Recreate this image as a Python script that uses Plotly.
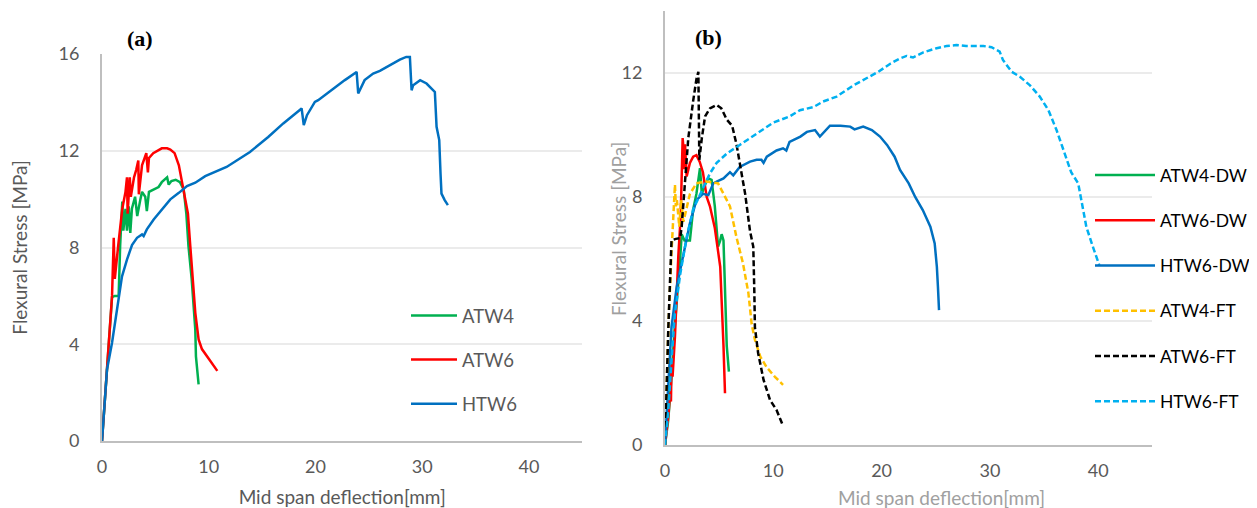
import plotly.graph_objects as go

# ---------------- Panel (a) data ----------------
a_atw4_x = [0, 0.3, 0.6, 0.94, 1.2, 1.56, 1.7, 1.9, 2.0, 2.2, 2.34, 2.5, 2.65, 2.8, 3.1, 3.3, 3.6, 3.75,
            4.05, 4.2, 4.4, 4.8, 5.3, 5.6, 6.1, 6.25, 6.5, 6.9, 7.3, 7.65, 7.9, 8.1, 8.4, 8.74, 8.8, 9.05]
a_atw4_y = [0, 2.0, 4.0, 5.95, 6.0, 6.0, 8.06, 9.9, 8.7, 9.6, 8.7, 9.7, 8.6, 9.6, 10.1, 9.3, 10.0, 10.3,
            10.1, 9.5, 10.3, 10.4, 10.5, 10.7, 10.9, 10.6, 10.75, 10.8, 10.7, 10.4, 9.4, 8.06, 6.7, 4.6, 3.5, 2.34]

a_atw6_x = [0, 0.3, 0.62, 0.94, 1.1, 1.15, 1.2, 1.5, 1.9, 2.2, 2.34, 2.4, 2.6, 2.7, 3.0, 3.2, 3.4, 3.45,
            3.75, 4.15, 4.3, 4.4, 4.8, 5.6, 6.1, 6.4, 6.8, 7.2, 7.65, 8.05, 8.27, 8.5, 8.74, 9.05, 9.36, 10.0, 10.8]
a_atw6_y = [0, 1.8, 4.06, 6.0, 8.4, 7.5, 6.7, 8.0, 9.6, 10.3, 10.9, 9.4, 10.9, 10.1, 10.9, 11.2, 11.6, 10.2,
            11.4, 11.9, 11.1, 11.7, 11.9, 12.1, 12.1, 12.05, 11.9, 11.4, 10.4, 9.4, 8.06, 6.7, 5.3, 4.2, 3.8, 3.4, 2.9]

a_htw6_x = [0, 0.47, 0.94, 1.25, 1.56, 1.87, 2.34, 2.81, 3.28, 3.75, 3.9, 4.2, 4.84, 5.6, 6.4, 7.2, 7.96,
            8.74, 9.67, 11.67, 13.86, 15.57, 16.98, 18.7, 18.9, 19.2, 19.94, 20.25, 21.66, 22.75, 23.85, 24.0,
            24.6, 25.4, 26.03, 26.8, 27.9, 28.5, 28.84, 29.0, 29.15, 29.8, 30.4, 30.87, 31.18, 31.34, 31.59,
            31.71, 31.8, 32.1, 32.4]
a_htw6_y = [0, 2.96, 4.06, 5.03, 6.0, 6.8, 7.5, 8.1, 8.4, 8.54, 8.47, 8.75, 9.16, 9.57, 9.99, 10.26, 10.54,
            10.68, 10.95, 11.33, 11.95, 12.57, 13.13, 13.75, 13.06, 13.47, 14.02, 14.09, 14.57, 14.92, 15.26, 14.37,
            14.92, 15.19, 15.3, 15.5, 15.77, 15.88, 15.88, 14.5, 14.71, 14.92, 14.78, 14.57, 14.43, 12.99, 12.44,
            11.06, 10.23, 9.96, 9.75]

# ---------------- Panel (b) data ----------------
b_atw4dw_x = [0, 0.3, 0.6, 0.9, 1.4, 1.54, 1.8, 2.3, 2.45, 2.6, 2.9, 3.23, 3.4, 3.7, 4.0, 4.3, 4.6, 4.9,
              5.1, 5.23, 5.4, 5.54, 5.7, 5.9]
b_atw4dw_y = [0, 0.8, 2.2, 3.8, 6.0, 6.8, 6.6, 6.6, 7.1, 7.6, 8.1, 8.93, 8.1, 8.4, 8.6, 8.55, 7.7, 6.4,
              6.6, 6.8, 6.6, 4.9, 3.2, 2.37]

b_atw6dw_x = [0, 0.2, 0.35, 0.46, 0.55, 0.6, 0.7, 0.92, 1.08, 1.23, 1.45, 1.54, 1.63, 1.7, 1.75, 1.85, 2.0,
              2.3, 2.6, 2.9, 3.2, 3.5, 3.85, 4.15, 4.6, 5.1, 5.25, 5.4, 5.54]
b_atw6dw_y = [0, 0.6, 1.1, 1.67, 1.4, 2.6, 2.2, 3.5, 4.9, 6.1, 7.4, 8.66, 9.9, 9.6, 8.9, 9.7, 8.66,
              9.1, 9.3, 9.35, 9.14, 8.8, 8.0, 7.7, 7.0, 5.75, 4.7, 3.2, 1.67]

b_htw6dw_x = [0, 0.3, 0.6, 1.08, 1.7, 2.3, 2.9, 3.5, 4.0, 4.15, 4.46, 4.77, 5.4, 6.0, 6.3, 6.9, 7.85, 8.46,
              8.9, 9.1, 9.4, 10.3, 10.9, 11.2, 11.5, 12.5, 13.1, 13.85, 14.3, 15.23, 16.2, 17.1, 17.5, 18.3,
              19.1, 19.85, 20.5, 21.2, 21.7, 22.5, 23.1, 23.8, 24.5, 24.9, 25.1, 25.2, 25.3]
b_htw6dw_y = [0, 1.9, 3.8, 5.1, 6.2, 7.15, 7.9, 8.1, 8.06, 8.17, 8.44, 8.5, 8.6, 8.8, 8.7, 8.97, 9.14, 9.2,
              9.2, 9.1, 9.3, 9.5, 9.57, 9.5, 9.78, 9.95, 10.1, 10.16, 9.95, 10.3, 10.3, 10.27, 10.18, 10.27,
              10.16, 9.95, 9.68, 9.3, 8.87, 8.44, 8.0, 7.58, 7.04, 6.5, 5.75, 5.1, 4.35]

b_atw4ft_x = [0, 0.15, 0.31, 0.6, 0.77, 0.92, 1.0, 1.1, 1.32, 1.48, 1.7, 2.0, 2.3, 2.9, 3.85, 4.9, 5.4,
              6.0, 6.6, 7.2, 7.7, 8.0, 8.3, 8.8, 9.4, 10.15, 10.9]
b_atw4ft_y = [0, 2.0, 3.8, 6.2, 7.4, 8.4, 7.7, 7.9, 7.04, 7.9, 7.2, 7.7, 8.1, 8.44, 8.5, 8.44, 8.1,
              7.7, 6.7, 5.86, 4.9, 3.9, 3.4, 2.85, 2.5, 2.2, 1.94]

b_atw6ft_x = [0, 0.15, 0.31, 0.6, 1.0, 1.4, 1.54, 1.85, 2.15, 2.6, 2.9, 3.08, 3.17, 3.4, 3.7, 4.15, 4.77,
              5.2, 5.7, 6.2, 6.6, 6.9, 7.4, 7.85, 8.15, 8.25, 8.3, 8.6, 9.1, 9.7, 10.3, 10.86]
b_atw6ft_y = [0, 2.0, 3.8, 6.6, 6.65, 6.67, 7.04, 8.5, 9.9, 11.1, 11.8, 12.04, 9.2, 9.9, 10.6, 10.86, 10.97,
              10.86, 10.5, 10.3, 9.7, 9.1, 8.1, 6.9, 6.4, 4.9, 3.8, 2.96, 2.1, 1.45, 1.13, 0.65]

b_htw6ft_x = [0, 0.3, 0.6, 0.9, 1.4, 2.0, 2.6, 3.5, 4.15, 4.77, 5.7, 6.9, 8.46, 10.0, 11.5, 12.46, 13.7,
              14.6, 15.85, 16.5, 17.4, 18.6, 19.7, 20.8, 21.7, 22.3, 22.9, 23.8, 25.08, 26.0, 26.9, 27.8,
              29.4, 30.15, 30.9, 31.2, 32.0, 32.77, 33.7, 34.6, 35.4, 36.15, 36.9, 37.5, 38.15, 38.46, 38.9,
              39.5, 40.1]
b_htw6ft_y = [0, 1.1, 2.7, 4.2, 5.5, 6.7, 7.6, 8.3, 8.76, 9.1, 9.4, 9.68, 10.05, 10.4, 10.6, 10.8, 10.9,
              11.08, 11.24, 11.4, 11.6, 11.83, 12.04, 12.3, 12.47, 12.55, 12.5, 12.66, 12.8, 12.87, 12.9, 12.87,
              12.87, 12.83, 12.69, 12.42, 12.04, 11.88, 11.6, 11.24, 10.8, 10.16, 9.4, 8.8, 8.44, 7.9, 7.04,
              6.4, 5.8]

x_ticks = [0, 10, 20, 30, 40]
ya_ticks = [0, 4, 8, 12, 16]
yb_ticks = [0, 4, 8, 12]

X_TITLE = "Mid span deflection[mm]"
Y_TITLE = "Flexural Stress [MPa]"

GREEN, RED, BLUE = "#00B050", "#FF0000", "#0070C0"
YELLOW, BLACK, LBLUE = "#FFC000", "#000000", "#00B0F0"
DASH = "6px,3px"
FONT = "Lato, 'Open Sans', sans-serif"

fig = go.Figure()


def add(x, y, name, color, dash, xa, ya, legend):
    fig.add_trace(go.Scatter(
        x=x, y=y, name=name, mode="lines", xaxis=xa, yaxis=ya,
        line=dict(color=color, width=2.5, dash=dash),
        legend=legend, legendgroup=name,
    ))


add(a_atw4_x, a_atw4_y, "ATW4", GREEN, "solid", "x", "y", "legend")
add(a_atw6_x, a_atw6_y, "ATW6", RED, "solid", "x", "y", "legend")
add(a_htw6_x, a_htw6_y, "HTW6", BLUE, "solid", "x", "y", "legend")

add(b_atw4dw_x, b_atw4dw_y, "ATW4-DW", GREEN, "solid", "x2", "y2", "legend2")
add(b_atw6dw_x, b_atw6dw_y, "ATW6-DW", RED, "solid", "x2", "y2", "legend2")
add(b_htw6dw_x, b_htw6dw_y, "HTW6-DW", BLUE, "solid", "x2", "y2", "legend2")
add(b_atw4ft_x, b_atw4ft_y, "ATW4-FT", YELLOW, DASH, "x2", "y2", "legend2")
add(b_atw6ft_x, b_atw6ft_y, "ATW6-FT", BLACK, DASH, "x2", "y2", "legend2")
add(b_htw6ft_x, b_htw6ft_y, "HTW6-FT", LBLUE, DASH, "x2", "y2", "legend2")

# page body has an 8px margin: the figure is placed at (8, 8) in the window
OFF = 8
W, H = 1257 - OFF, 508 - OFF


def px(sx):  # window x pixel -> paper fraction
    return (sx - OFF) / W


def py(sy):  # window y pixel -> paper fraction
    return (508 - sy) / H


AXLINE = "#BFBFBF"
GRID = "#EBEBEB"
TICKC = "#595959"
TITLE_A = "#595959"
TITLE_B = "#A0A0A0"
FS_TICK = 18
FS_TITLE = 19


def xax(domain, title):
    return dict(
        domain=domain, range=[0, 45], tickvals=x_ticks, showgrid=False, zeroline=False, automargin=False,
        showline=True, linecolor=AXLINE, linewidth=2, ticks="", ticklabelstandoff=8,
        tickfont=dict(family=FONT, size=FS_TICK, color=TICKC),
        title=title,
    )


def yax(domain, rng, tv, anchor, title):
    return dict(
        domain=domain, range=rng, tickvals=tv, showgrid=True, gridcolor=GRID, gridwidth=2, automargin=False,
        zeroline=False, showline=True, linecolor=AXLINE, linewidth=2, ticks="", ticklabelstandoff=17,
        tickfont=dict(family=FONT, size=FS_TICK, color=TICKC), anchor=anchor,
        title=title,
    )


fig.update_layout(
    width=W, height=H, margin=dict(l=0, r=0, t=0, b=0),
    paper_bgcolor="white", plot_bgcolor="white",
    xaxis=dict(xax([px(102), px(582.4)],
                   dict(text=X_TITLE, font=dict(family=FONT, size=FS_TITLE, color=TITLE_A), standoff=16)),
               anchor="y"),
    yaxis=yax([py(441), py(54)], [0, 16], ya_ticks, "x",
              dict(text=Y_TITLE, font=dict(family=FONT, size=FS_TITLE, color=TITLE_A), standoff=28)),
    xaxis2=dict(xax([px(665), px(1152.4)], None), anchor="y2"),
    yaxis2=yax([py(445), py(11)], [0, 14], yb_ticks, "x2", None),
    legend=dict(x=px(406), y=py(297), xanchor="left", yanchor="top",
                bgcolor="rgba(0,0,0,0)", traceorder="grouped", tracegroupgap=17,
                font=dict(family=FONT, size=18.5, color="#595959"), itemwidth=46),
    legend2=dict(x=px(1090), y=py(157), xanchor="left", yanchor="top",
                 bgcolor="rgba(0,0,0,0)", traceorder="grouped", tracegroupgap=19.5,
                 font=dict(family=FONT, size=17.5, color="#000000"), itemwidth=60),
    showlegend=True,
    annotations=[
        # panel (b) axis titles (placed as in the reference, off-centre from the axes)
        dict(text=X_TITLE, x=px(941), y=py(497), xref="paper", yref="paper",
             xanchor="center", yanchor="middle", showarrow=False,
             font=dict(family=FONT, size=FS_TITLE, color=TITLE_B)),
        dict(text=Y_TITLE, x=px(619), y=py(229), xref="paper", yref="paper", textangle=-90,
             xanchor="center", yanchor="middle", showarrow=False,
             font=dict(family=FONT, size=FS_TITLE, color=TITLE_B)),
        dict(text="<b>(a)</b>", x=px(140), y=py(38), xref="paper", yref="paper",
             xanchor="center", yanchor="middle",
             showarrow=False, font=dict(family="Liberation Serif, serif", size=22, color="black")),
        dict(text="<b>(b)</b>", x=px(708), y=py(37), xref="paper", yref="paper",
             xanchor="center", yanchor="middle",
             showarrow=False, font=dict(family="Liberation Serif, serif", size=22, color="black")),
    ],
)

fig.write_html("out.html")
